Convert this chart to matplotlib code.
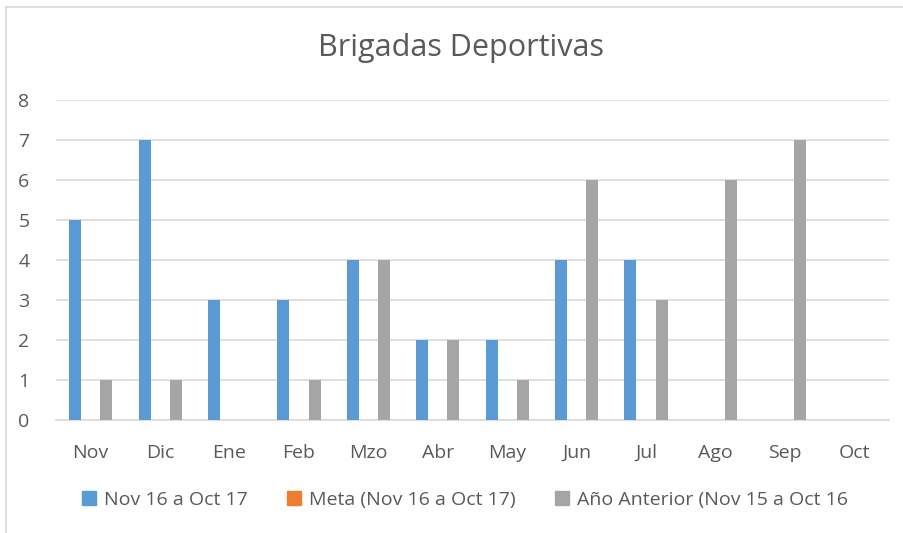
import matplotlib.pyplot as plt
import numpy as np
from matplotlib.patches import Rectangle
from matplotlib.lines import Line2D

meses = ["Nov", "Dic", "Ene", "Feb", "Mzo", "Abr", "May", "Jun", "Jul", "Ago", "Sep", "Oct"]
actual = [5, 7, 3, 3, 4, 2, 2, 4, 4, 0, 0, 0]
meta = [0, 0, 0, 0, 0, 0, 0, 0, 0, 0, 0, 0]
anterior = [1, 1, 0, 1, 4, 2, 1, 6, 3, 6, 7, 0]
nombres = ["Nov 16 a Oct 17", "Meta (Nov 16 a Oct 17)", "Año Anterior (Nov 15 a Oct 16"]

azul = "#5B9BD5"
naranja = "#ED7D31"
gris = "#A5A5A5"
texto = "#595959"

plt.rcParams['font.family'] = ['Open Sans', 'DejaVu Sans']

fig = plt.figure(figsize=(9.04, 5.33), dpi=100)
ax = fig.add_axes([56 / 904, 1 - 420 / 533, 833 / 904, 320 / 533])

x = np.arange(len(meses))
w = 0.173
off = 0.225
ax.bar(x - off, actual, w, color=azul, zorder=3)
ax.bar(x, meta, w, color=naranja, zorder=3)
ax.bar(x + off, anterior, w, color=gris, zorder=3)

ax.set_xlim(-0.5, len(meses) - 0.5)
ax.set_ylim(0, 8)
ax.set_yticks(range(0, 9))
ax.yaxis.grid(True, color="#D9D9D9", linewidth=1.2, zorder=0)
for s in ["top", "right", "left"]:
    ax.spines[s].set_visible(False)
ax.spines["bottom"].set_color("#D9D9D9")
ax.spines["bottom"].set_linewidth(1.2)
ax.set_xticks(x)
ax.set_xticklabels(meses)
ax.tick_params(axis="both", length=0, labelsize=14, colors=texto)
ax.tick_params(axis="x", pad=17)
ax.tick_params(axis="y", pad=19)

fig.text(461 / 904, 1 - 48 / 533, "Brigadas Deportivas", ha="center", va="center",
         fontsize=22, color=texto)

handles = [Rectangle((0, 0), 1, 1, color=c) for c in (azul, naranja, gris)]
leg = fig.legend(handles, nombres, loc="center", bbox_to_anchor=(465 / 904, 1 - 500 / 533),
                 ncol=3, frameon=False, fontsize=14, labelcolor=texto,
                 handlelength=0.75, handleheight=0.75, handletextpad=0.4, columnspacing=2.0)

# chart frame (cropped at right and bottom)
fig.add_artist(Line2D([6 / 904, 6 / 904], [0, 1 - 6.5 / 533], color="#D9D9D9", lw=1.2,
                      transform=fig.transFigure))
fig.add_artist(Line2D([6 / 904, 1], [1 - 6.5 / 533, 1 - 6.5 / 533], color="#D9D9D9", lw=1.2,
                      transform=fig.transFigure))

fig.savefig("out.png", dpi=100)
